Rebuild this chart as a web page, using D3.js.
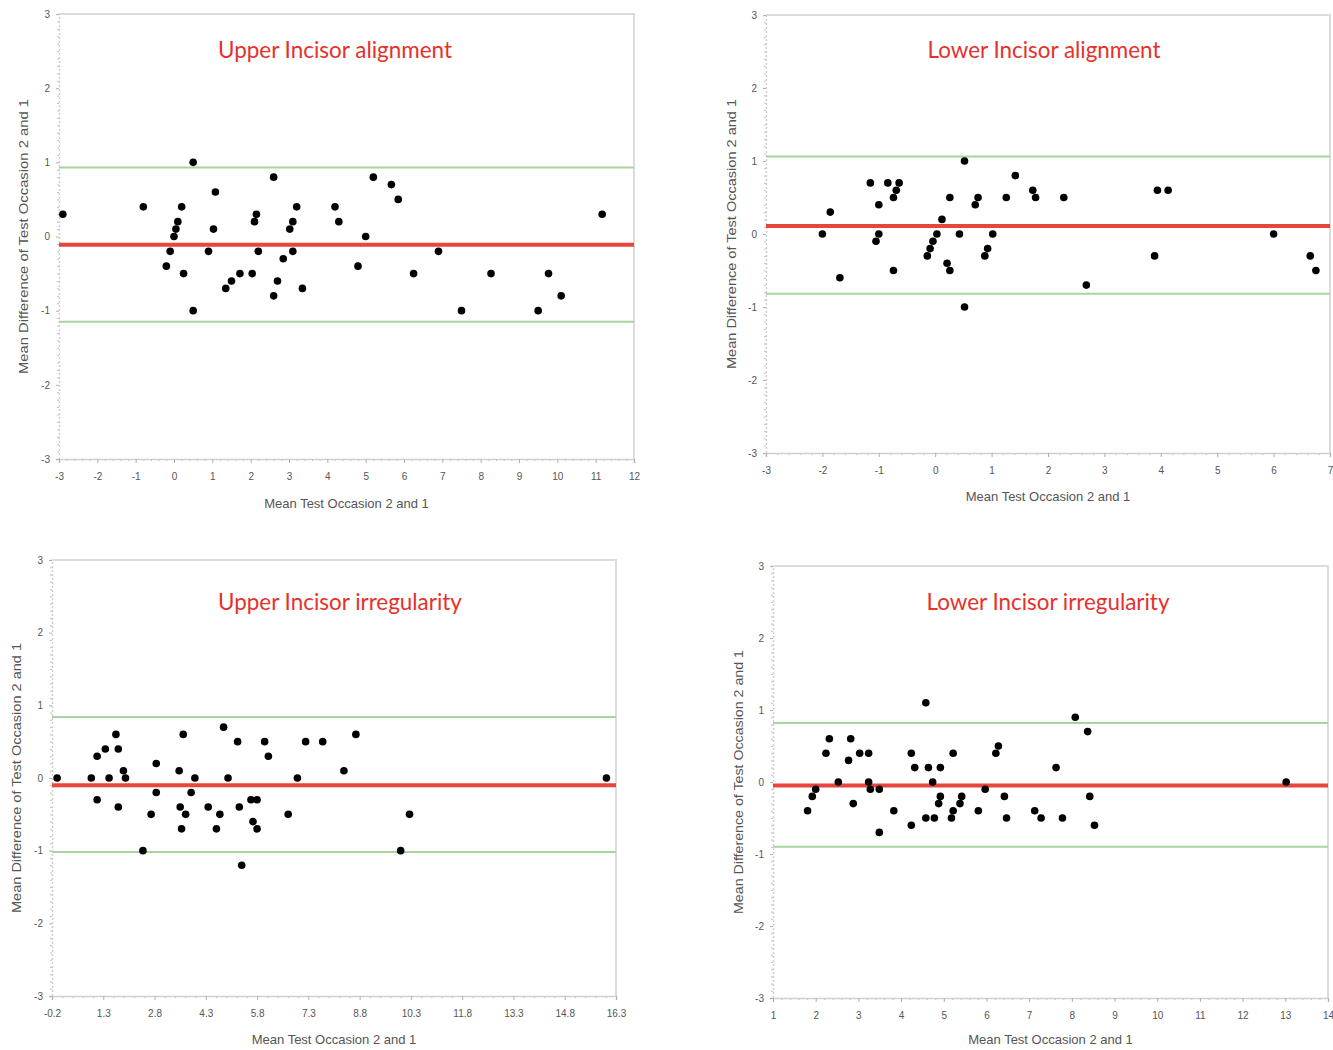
<!DOCTYPE html>
<html>
<head>
<meta charset="utf-8">
<script src="https://cdn.jsdelivr.net/npm/d3@7"></script>
<style>
body{margin:0;background:#fff;}
svg{display:block;}
</style>
</head>
<body>
<svg id="chart" width="1333" height="1050"></svg>
<script>
const upperAlign=[[-2.9,0.3],[-0.8,0.4],[-0.2,-0.4],[-0.1,-0.2],[0,0],[0.05,0.1],[0.1,0.2],[0.2,0.4],[0.25,-0.5],
  [0.5,1.0],[0.5,-1.0],[0.9,-0.2],[1.03,0.1],[1.08,0.6],[1.35,-0.7],[1.5,-0.6],[1.72,-0.5],[2.04,-0.5],[2.1,0.2],
  [2.15,0.3],[2.2,-0.2],[2.6,0.8],[2.6,-0.8],[2.7,-0.6],[2.85,-0.3],[3.02,0.1],[3.1,0.2],[3.1,-0.2],[3.2,0.4],
  [3.35,-0.7],[4.2,0.4],[4.3,0.2],[4.8,-0.4],[5.0,0],[5.2,0.8],[5.67,0.7],[5.85,0.5],[6.25,-0.5],[6.9,-0.2],
  [7.5,-1.0],[8.27,-0.5],[9.5,-1.0],[9.77,-0.5],[10.1,-0.8],[11.17,0.3]];
const lowerAlign=[[-2.0,0],[-1.86,0.3],[-1.69,-0.6],[-1.15,0.7],[-1.0,0.4],[-1.05,-0.1],[-1.0,0],[-0.84,0.7],
  [-0.74,0.5],[-0.69,0.6],[-0.64,0.7],[-0.74,-0.5],[-0.14,-0.3],[-0.09,-0.2],[-0.04,-0.1],[0.03,0],[0.12,0.2],
  [0.21,-0.4],[0.26,-0.5],[0.26,0.5],[0.43,0],[0.52,1.0],[0.52,-1.0],[0.71,0.4],[0.76,0.5],[0.88,-0.3],[0.93,-0.2],
  [1.02,0],[1.26,0.5],[1.42,0.8],[1.73,0.6],[1.78,0.5],[2.28,0.5],[2.68,-0.7],[3.89,-0.3],[3.94,0.6],[4.13,0.6],
  [6.0,0],[6.65,-0.3],[6.75,-0.5]];
const upperIrreg=[[-0.05,0],[0.95,0],[1.12,0.3],[1.12,-0.3],[1.36,0.4],[1.47,0],[1.67,0.6],[1.74,0.4],[1.74,-0.4],
  [1.89,0.1],[1.95,0],[2.46,-1.0],[2.7,-0.5],[2.85,0.2],[2.85,-0.2],[3.52,0.1],[3.55,-0.4],[3.59,-0.7],[3.64,0.6],
  [3.71,-0.5],[3.87,-0.2],[3.98,0],[4.37,-0.4],[4.61,-0.7],[4.71,-0.5],[4.82,0.7],[4.95,0],[5.23,0.5],[5.28,-0.4],
  [5.35,-1.2],[5.62,-0.3],[5.68,-0.6],[5.8,-0.3],[5.8,-0.7],[6.02,0.5],[6.13,0.3],[6.71,-0.5],[6.98,0],[7.22,0.5],
  [7.72,0.5],[8.34,0.1],[8.69,0.6],[10.0,-1.0],[10.26,-0.5],[16.02,0]];
const lowerIrreg=[[1.81,-0.4],[1.92,-0.2],[2.0,-0.1],[2.24,0.4],[2.32,0.6],[2.53,0],[2.77,0.3],[2.82,0.6],[2.88,-0.3],
  [3.03,0.4],[3.24,0.4],[3.24,0],[3.28,-0.1],[3.49,-0.1],[3.49,-0.7],[3.83,-0.4],[4.24,0.4],[4.24,-0.6],[4.32,0.2],
  [4.58,1.1],[4.58,-0.5],[4.64,0.2],[4.74,0],[4.78,-0.5],[4.88,-0.3],[4.92,-0.2],[4.92,0.2],[5.18,-0.5],[5.22,-0.4],
  [5.22,0.4],[5.38,-0.3],[5.42,-0.2],[5.81,-0.4],[5.97,-0.1],[6.22,0.4],[6.28,0.5],[6.42,-0.2],[6.47,-0.5],
  [7.13,-0.4],[7.28,-0.5],[7.63,0.2],[7.78,-0.5],[8.08,0.9],[8.37,0.7],[8.42,-0.2],[8.53,-0.6],[13.02,0]];

// [upper limit, mean difference, lower limit]
const upperAlignLines=[0.93,-0.11,-1.15];
const lowerAlignLines=[1.06,0.11,-0.82];
const upperIrregLines=[0.84,-0.10,-1.02];
const lowerIrregLines=[0.82,-0.05,-0.90];

const upperAlignTicks=[-3,-2,-1,0,1,2,3,4,5,6,7,8,9,10,11,12];
const lowerAlignTicks=[-3,-2,-1,0,1,2,3,4,5,6,7];
const upperIrregTicks=[-0.2,1.3,2.8,4.3,5.8,7.3,8.8,10.3,11.8,13.3,14.8,16.3];
const lowerIrregTicks=[1,2,3,4,5,6,7,8,9,10,11,12,13,14];
const yTicks=[-3,-2,-1,0,1,2,3];

const titles=["Upper Incisor alignment","Lower Incisor alignment","Upper Incisor irregularity","Lower Incisor irregularity"];
const xTitle="Mean Test Occasion 2 and 1";
const yTitle="Mean Difference of Test Occasion 2 and 1";

// layout: frame [left,top,right,bottom], title centre/baseline/width, axis title spots
const panels=[
  {pts:upperAlign,lines:upperAlignLines,xt:upperAlignTicks,box:[59,14,634,459],tx:335,ty:58,tw:234,xty:508,ytx:25,ytw:275},
  {pts:lowerAlign,lines:lowerAlignLines,xt:lowerAlignTicks,box:[766,15,1330,453],tx:1044,ty:58,tw:233,xty:501,ytx:733,ytw:270},
  {pts:upperIrreg,lines:upperIrregLines,xt:upperIrregTicks,box:[52,560,616,996],tx:340,ty:610,tw:244,xty:1044,ytx:18,ytw:270},
  {pts:lowerIrreg,lines:lowerIrregLines,xt:lowerIrregTicks,box:[773,566,1328,998],tx:1048,ty:610,tw:243,xty:1044,ytx:740,ytw:264}
];

const svg=d3.select("#chart");
const FONT="'Liberation Sans',Arial,sans-serif";
const MINOR=5;

panels.forEach((p,i)=>{
  const [L,T,R,B]=p.box;
  const xt=p.xt;
  const x=d3.scaleLinear().domain([xt[0],xt[xt.length-1]]).range([L,R]);
  const y=d3.scaleLinear().domain([-3,3]).range([B,T]);
  const g=svg.append("g");

  // frame top / right
  g.append("path").attr("d",`M${L},${T} H${R} V${B}`).attr("fill","none")
    .attr("stroke","#dcdcdc").attr("stroke-width",2);

  // minor ticks
  const step=xt[1]-xt[0];
  const mx=[];
  for(let k=0;k<xt.length-1;k++)for(let j=1;j<MINOR;j++)mx.push(xt[k]+step*j/MINOR);
  g.append("g").attr("transform",`translate(0,${B})`)
    .call(d3.axisBottom(x).tickValues(mx).tickSize(2).tickFormat(""))
    .call(a=>a.select(".domain").remove())
    .selectAll("line").attr("stroke","#bdbdbd");
  const my=d3.range(-30,31).map(v=>v/10).filter(v=>Math.abs(v-Math.round(v))>1e-6);
  g.append("g").attr("transform",`translate(${L},0)`)
    .call(d3.axisLeft(y).tickValues(my).tickSize(2).tickFormat(""))
    .call(a=>a.select(".domain").remove())
    .selectAll("line").attr("stroke","#bdbdbd");

  // major axes
  const fmt=v=>Number.isInteger(v)?String(v):v.toFixed(1);
  const xa=g.append("g").attr("transform",`translate(0,${B})`)
    .call(d3.axisBottom(x).tickValues(xt).tickSize(4).tickPadding(10).tickFormat(fmt));
  const ya=g.append("g").attr("transform",`translate(${L},0)`)
    .call(d3.axisLeft(y).tickValues(yTicks).tickSize(3).tickPadding(6).tickFormat(fmt));
  [xa,ya].forEach(a=>{
    a.select(".domain").attr("stroke","#d0d0d0").attr("stroke-width",1.5);
    a.selectAll(".tick line").attr("stroke","#b0b0b0");
    a.selectAll("text").attr("font-family",FONT).attr("font-size",10).attr("fill","#555");
  });
  ya.select(".domain").attr("stroke-dasharray","2,2");

  // limits of agreement and mean difference
  const [up,mean,lo]=p.lines;
  [up,lo].forEach(v=>{
    g.append("line").attr("x1",L).attr("x2",R).attr("y1",y(v)).attr("y2",y(v))
      .attr("stroke","#a8d49e").attr("stroke-width",2);
  });
  g.append("line").attr("x1",L).attr("x2",R).attr("y1",y(mean)).attr("y2",y(mean))
    .attr("stroke","#e8453c").attr("stroke-width",4);

  // points
  g.selectAll("circle.pt").data(p.pts).join("circle").attr("class","pt")
    .attr("cx",d=>x(d[0])).attr("cy",d=>y(d[1])).attr("r",3.8).attr("fill","#000");

  // titles
  const t=g.append("text").attr("x",p.tx).attr("y",p.ty).attr("text-anchor","middle")
    .attr("font-family","Lato,'Open Sans',sans-serif").attr("font-size",22).attr("fill","#e8302a")
    .text(titles[i]);
  const w=t.node().getComputedTextLength();
  t.attr("font-size",22*p.tw/w);

  g.append("text").attr("x",(L+R)/2).attr("y",p.xty).attr("text-anchor","middle")
    .attr("font-family",FONT).attr("font-size",13).attr("fill","#555").text(xTitle);
  g.append("text").attr("transform",`translate(${p.ytx},${(T+B)/2}) rotate(-90)`)
    .attr("text-anchor","middle").attr("dominant-baseline","middle")
    .attr("textLength",p.ytw).attr("lengthAdjust","spacingAndGlyphs")
    .attr("font-family",FONT).attr("font-size",13).attr("fill","#555").text(yTitle);
});
</script>
</body>
</html>
